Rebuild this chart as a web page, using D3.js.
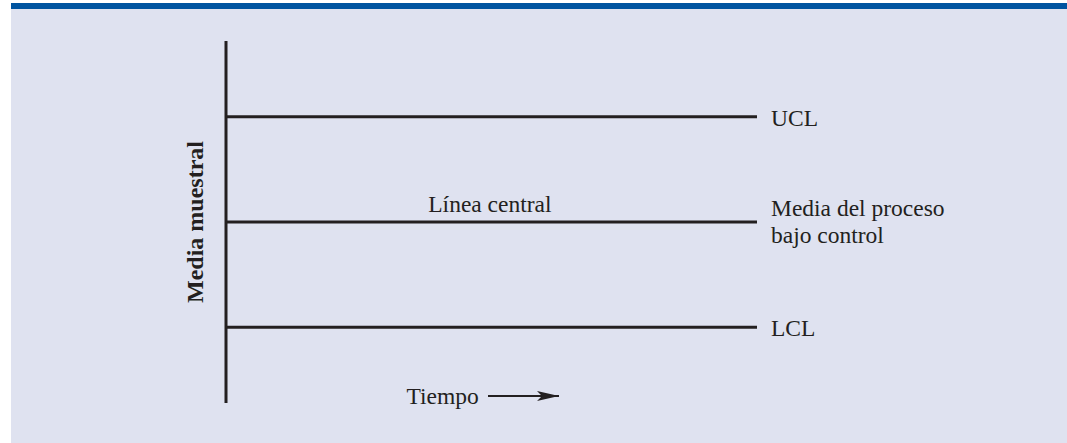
<!DOCTYPE html>
<html><head><meta charset="utf-8">
<script src="https://cdn.jsdelivr.net/npm/d3@7"></script>
<style>html,body{margin:0;padding:0;background:#fff;}svg{display:block;}</style>
</head><body>
<svg id="chart" width="1067" height="443"></svg>
<script>
// Data
const limitNames = ["UCL", "Línea central", "LCL"];
const limitValues = [3, 0, -3];           // in sigma units
const limitLabels = [["UCL"], ["Media del proceso", "bajo control"], ["LCL"]];
const centerLineTitle = "Línea central";
const yAxisTitle = "Media muestral";
const xAxisTitle = "Tiempo";
const yDomain = [-5.16, 5.16];
const xDomain = [0, 1];

const W = 1067, H = 443;
const ink = "#231f20";
const font = "'Liberation Serif','Times New Roman',serif";
const svg = d3.select("#chart");

// panel background & top bar
svg.append("rect").attr("x", 11).attr("y", 3).attr("width", W - 11).attr("height", H - 3).attr("fill", "#dfe2f0");
svg.append("rect").attr("x", 11).attr("y", 3).attr("width", W - 11).attr("height", 6).attr("fill", "#0054a0");

const y = d3.scaleLinear().domain(yDomain).range([403, 41]);
const x = d3.scaleLinear().domain(xDomain).range([226, 757]);

// vertical axis
svg.append("line")
  .attr("x1", x(0)).attr("x2", x(0))
  .attr("y1", y(yDomain[0])).attr("y2", y(yDomain[1]))
  .attr("stroke", ink).attr("stroke-width", 3);

// control lines
svg.selectAll("line.ctrl").data(limitValues).join("line")
  .attr("class", "ctrl")
  .attr("x1", x(0)).attr("x2", x(1))
  .attr("y1", d => y(d)).attr("y2", d => y(d))
  .attr("stroke", ink).attr("stroke-width", 3);

// right labels
limitValues.forEach((v, i) => {
  const lines = limitLabels[i];
  const t = svg.append("text")
    .attr("x", x(1) + 14)
    .attr("y", lines.length === 1 ? y(v) + 9 : y(v) - 6)
    .attr("font-family", font).attr("font-size", 23.5).attr("fill", ink);
  lines.forEach((s, j) => {
    t.append("tspan").attr("x", x(1) + 14).attr("dy", j === 0 ? 0 : 26.5).text(s);
  });
});

// center line title
svg.append("text")
  .attr("x", x(0.497)).attr("y", y(0) - 10.5)
  .attr("text-anchor", "middle")
  .attr("font-family", font).attr("font-size", 23.5).attr("fill", ink)
  .text(centerLineTitle);

// y axis title
svg.append("text")
  .attr("transform", `translate(203,${y(0)}) rotate(-90)`)
  .attr("text-anchor", "middle")
  .attr("font-family", font).attr("font-size", 24).attr("font-weight", "bold").attr("fill", ink)
  .text(yAxisTitle);

// x axis title + arrow
svg.append("text")
  .attr("x", 406.5).attr("y", 404)
  .attr("font-family", font).attr("font-size", 23.5).attr("fill", ink)
  .text(xAxisTitle);

svg.append("defs").append("marker")
  .attr("id", "ah").attr("markerUnits", "userSpaceOnUse")
  .attr("viewBox", "0 0 22 10").attr("refX", 22).attr("refY", 5)
  .attr("markerWidth", 22).attr("markerHeight", 10).attr("orient", "auto")
  .append("path").attr("d", "M0,0 L22,5 L0,10 L5,5 Z").attr("fill", ink);

svg.append("line")
  .attr("x1", 488).attr("x2", 559).attr("y1", 396).attr("y2", 396)
  .attr("stroke", ink).attr("stroke-width", 2)
  .attr("marker-end", "url(#ah)");
</script>
</body></html>
